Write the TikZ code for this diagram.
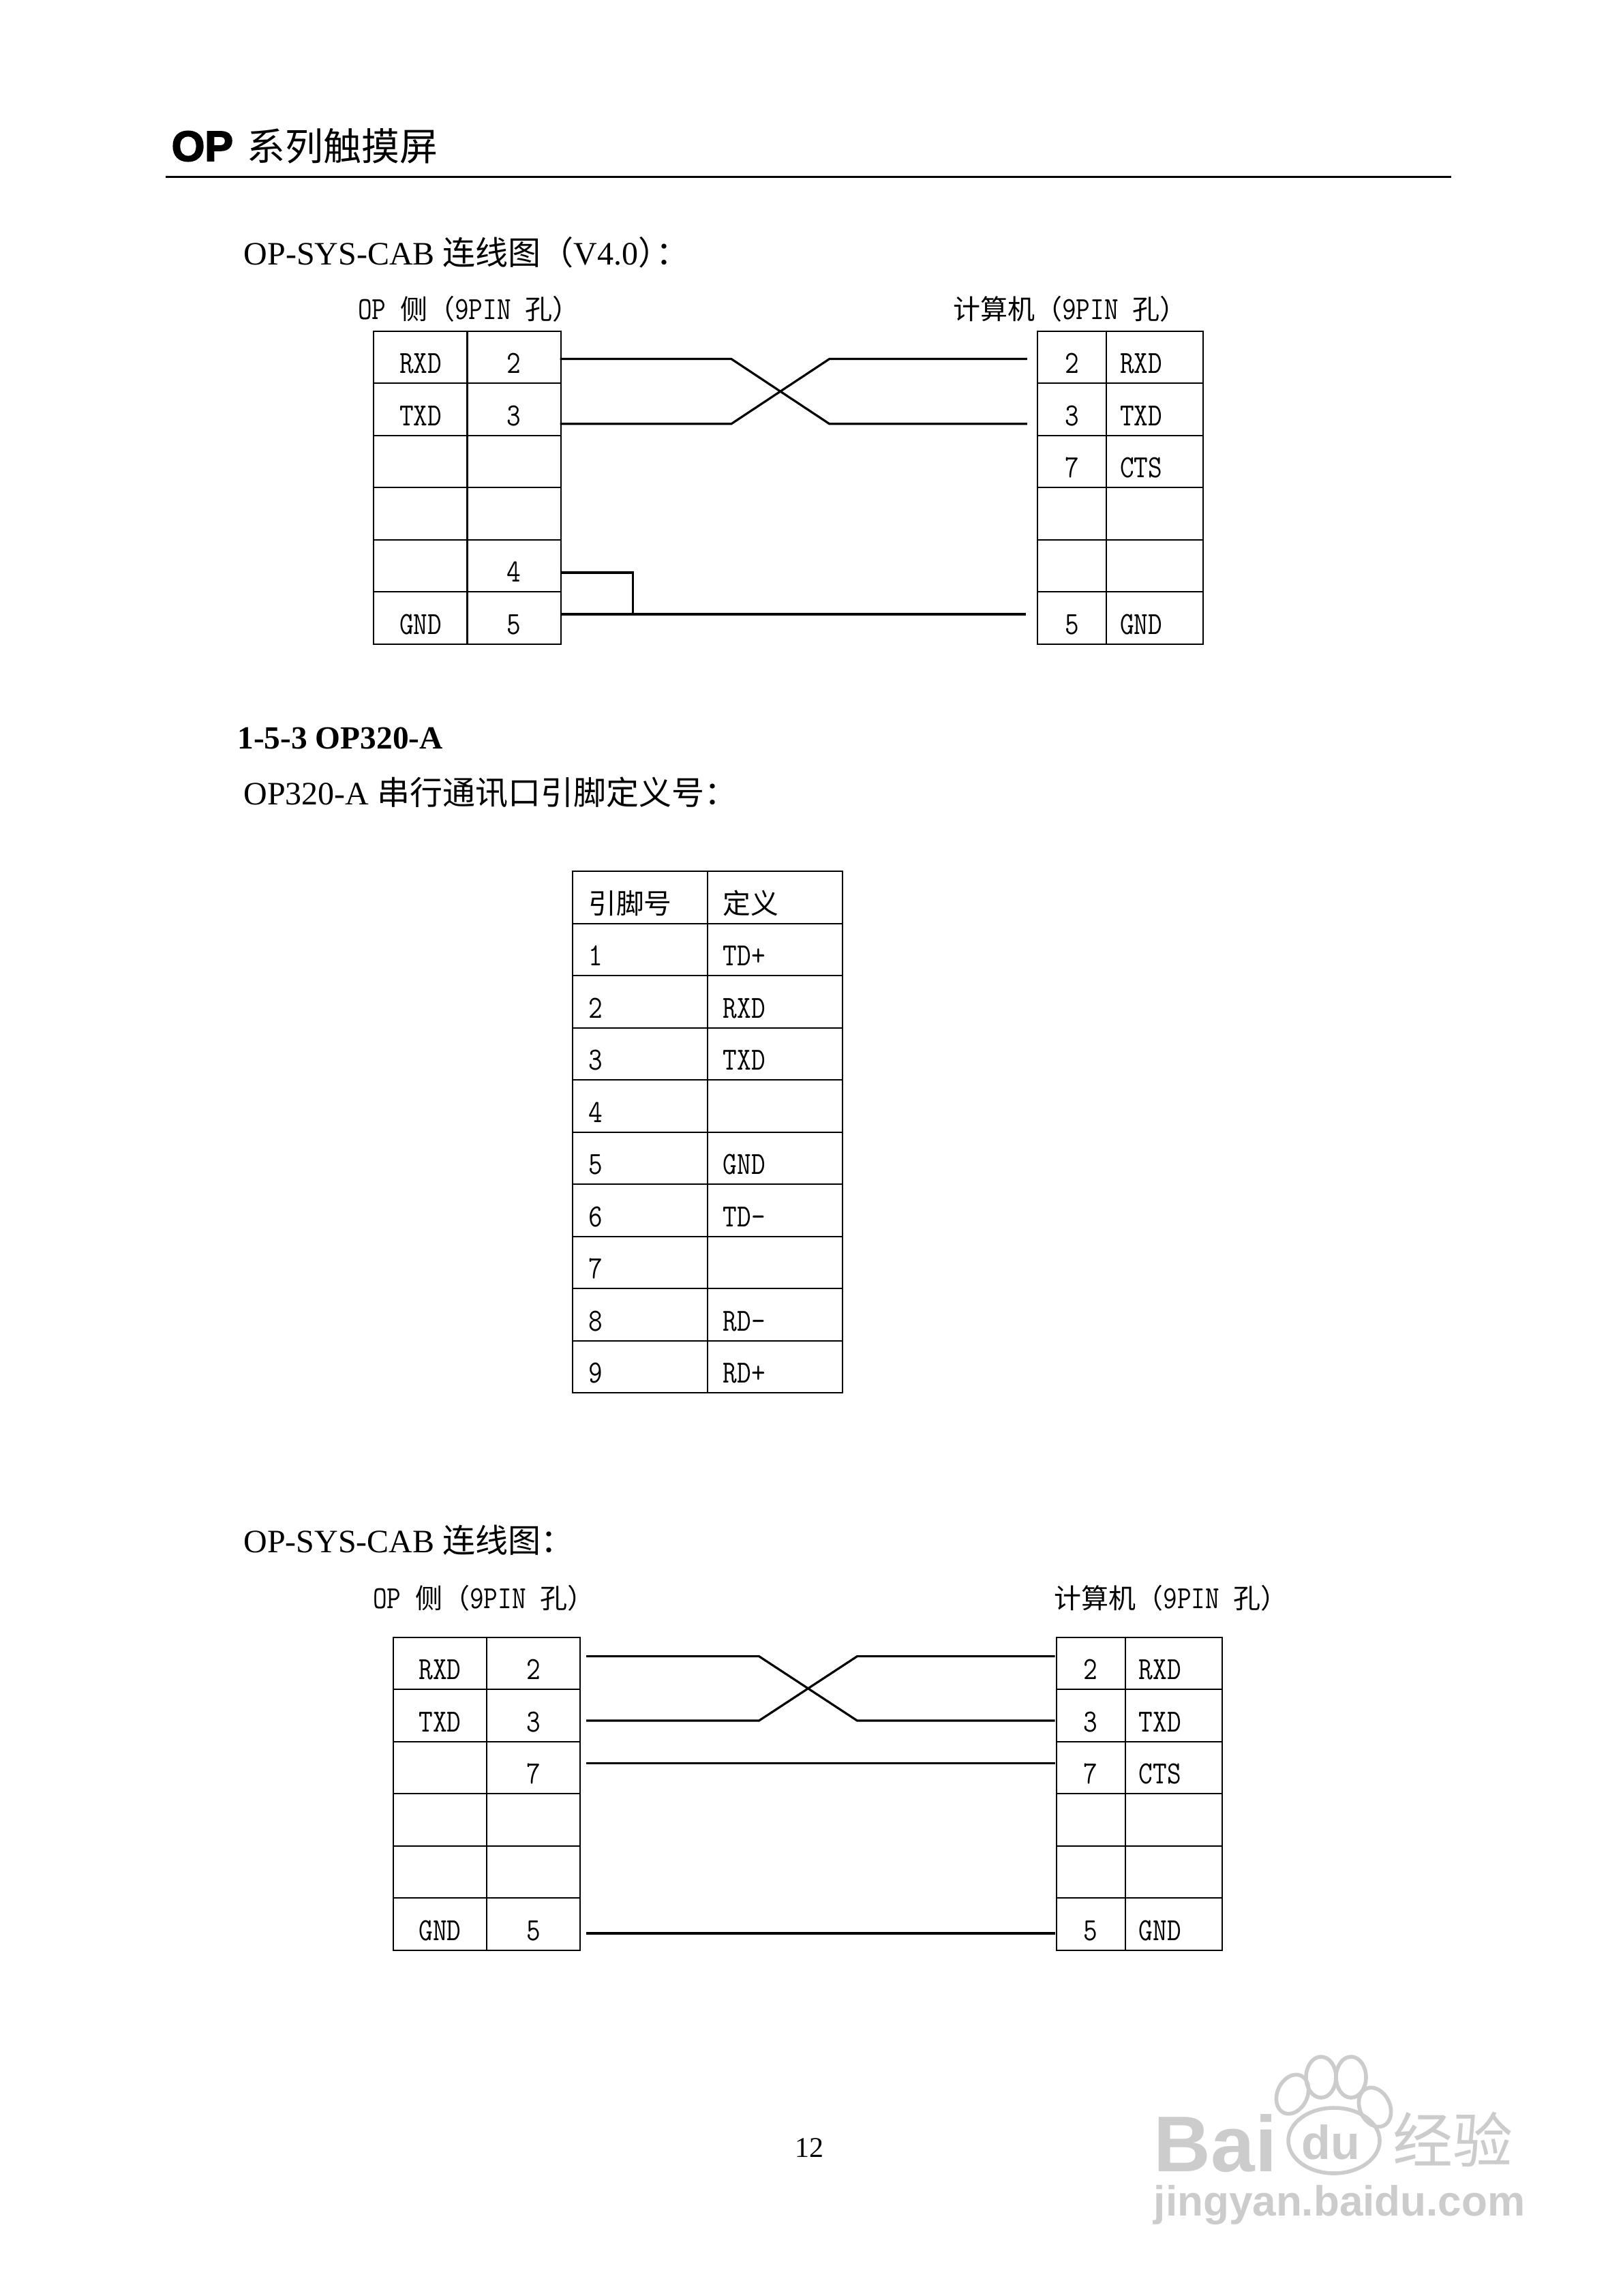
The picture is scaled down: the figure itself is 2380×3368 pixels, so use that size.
\documentclass[tikz,border=0pt]{standalone}
\usepackage{fontspec}
\usepackage{xcolor}
\setmainfont{Liberation Serif}
\newfontfamily\cjk{Noto Sans CJK SC}
\newfontfamily\pinfont[FakeStretch=0.85]{Latin Modern Mono}
\newfontfamily\opfont[UprightFont={* Bold},FakeBold=3]{Liberation Sans}
\newfontfamily\markfont[UprightFont={* Bold}]{Liberation Sans}
\usetikzlibrary{positioning}

\begin{document}
\begin{tikzpicture}[x=.25pt,y=-.25pt]
  \tikzstyle{cell}=[draw=black,line width=.5pt,rectangle,outer sep=0pt,inner xsep=0pt,inner ysep=3.6pt,text height=11.93pt,text depth=0pt,font=\pinfont\fontsize{11.8}{12}\selectfont]
  \tikzstyle{pincol}=[cell,minimum width=34.27pt,node distance=19.13pt]
  \tikzstyle{numcol}=[cell,minimum width=25.33pt,node distance=19.13pt]
  \tikzstyle{namecol}=[cell,minimum width=35.5pt,text width=25.5pt,align=left,node distance=19.13pt]
  \tikzstyle{deftab}=[cell,minimum width=49.42pt,text width=38pt,align=left,node distance=19.12pt]
  \tikzstyle{wire}=[line width=.8pt,draw=black]
  \tikzstyle{textline}=[anchor=base west,inner sep=0pt,font=\fontsize{12}{14}\selectfont]
  \tikzstyle{sidetext}=[anchor=base west,inner sep=0pt,font=\pinfont\fontsize{11.8}{14}\selectfont]
  \tikzstyle{wmark}=[anchor=base west,inner sep=0pt,text=black!20]
  \tikzstyle{paw}=[draw=black!20,line width=1.4pt]
  \useasboundingbox (0,0) rectangle (2380,3368);

  % page head
  \node [anchor=base west,inner sep=0pt,font=\opfont\fontsize{15.6}{16}\selectfont] (head) at (251,236) {OP};
  \node [anchor=base west,inner sep=0pt,font=\cjk\fontsize{14}{16}\selectfont] (headb) at (361.5,236) {系列触摸屏};
  \coordinate (rulea) at (243,260);
  \coordinate (ruleb) at (2129,260);
  \draw [line width=.75pt] (rulea) -- (ruleb);

  % first cable
  \node [textline] (title1) at (357,389) {OP-SYS-CAB {\cjk 连线图（}V4.0{\cjk ）\kern-.45em：}};
  \node [sidetext] (opside1) at (524.5,469) {OP {\cjk\fontsize{10}{14}\selectfont 侧（}9PIN {\cjk\fontsize{10}{14}\selectfont 孔）}};
  \node [sidetext] (pcside1) at (1397.5,469) {{\cjk\fontsize{10}{14}\selectfont 计算机（}9PIN {\cjk\fontsize{10}{14}\selectfont 孔）}};

  \node [pincol] (a1) at (617,524) {RXD};
  \node [pincol] (a2) [below of=a1] {TXD};
  \node [pincol] (a3) [below of=a2] {};
  \node [pincol] (a4) [below of=a3] {};
  \node [pincol] (a5) [below of=a4] {};
  \node [pincol] (a6) [below of=a5] {GND};
  \node [pincol] (b1) at (754,524) {2};
  \node [pincol] (b2) [below of=b1] {3};
  \node [pincol] (b3) [below of=b2] {};
  \node [pincol] (b4) [below of=b3] {};
  \node [pincol] (b5) [below of=b4] {4};
  \node [pincol] (b6) [below of=b5] {5};

  \node [numcol] (c1) at (1572.4,524) {2};
  \node [numcol] (c2) [below of=c1] {3};
  \node [numcol] (c3) [below of=c2] {7};
  \node [numcol] (c4) [below of=c3] {};
  \node [numcol] (c5) [below of=c4] {};
  \node [numcol] (c6) [below of=c5] {5};
  \node [namecol] (d1) at (1694.1,524) {RXD};
  \node [namecol] (d2) [below of=d1] {TXD};
  \node [namecol] (d3) [below of=d2] {CTS};
  \node [namecol] (d4) [below of=d3] {};
  \node [namecol] (d5) [below of=d4] {};
  \node [namecol] (d6) [below of=d5] {GND};

  \coordinate (w1) at (821.5,526.5);
  \coordinate (w2) at (821.5,621.8);
  \coordinate (k1) at (1072.8,526.5);
  \coordinate (k2) at (1072.8,621.8);
  \coordinate (k3) at (1216.8,621.8);
  \coordinate (k4) at (1216.8,526.5);
  \coordinate (e1) at (1506.8,621.8);
  \coordinate (e2) at (1506.8,526.5);
  \coordinate (w4) at (821.5,840);
  \coordinate (j4) at (928.7,840);
  \coordinate (j5) at (928.7,901);
  \coordinate (w5) at (821.5,901);
  \coordinate (e5) at (1505,901);
  \draw [wire] (w1) -- (k1) -- (k3) -- (e1);
  \draw [wire] (w2) -- (k2) -- (k4) -- (e2);
  \draw [wire] (w4) -- (j4) -- (j5);
  \draw [wire] (w5) -- (e5);

  % pin table
  \node [textline,font=\bfseries\fontsize{11.85}{14}\selectfont] (title2) at (347.5,1098.6) {1-5-3 OP320-A};
  \node [textline] (title3) at (356.6,1180.5) {OP320-A {\cjk 串行通讯口引脚定义号：}};

  \node [deftab,font=\cjk\fontsize{10.2}{14}\selectfont] (p0) at (939.2,1316.6) {引脚号};
  \node [deftab] (p1) [below of=p0] {1};
  \node [deftab] (p2) [below of=p1] {2};
  \node [deftab] (p3) [below of=p2] {3};
  \node [deftab] (p4) [below of=p3] {4};
  \node [deftab] (p5) [below of=p4] {5};
  \node [deftab] (p6) [below of=p5] {6};
  \node [deftab] (p7) [below of=p6] {7};
  \node [deftab] (p8) [below of=p7] {8};
  \node [deftab] (p9) [below of=p8] {9};
  \node [deftab,font=\cjk\fontsize{10.2}{14}\selectfont] (q0) at (1136.8,1316.6) {定义};
  \node [deftab] (q1) [below of=q0] {TD+};
  \node [deftab] (q2) [below of=q1] {RXD};
  \node [deftab] (q3) [below of=q2] {TXD};
  \node [deftab] (q4) [below of=q3] {};
  \node [deftab] (q5) [below of=q4] {GND};
  \node [deftab] (q6) [below of=q5] {TD-};
  \node [deftab] (q7) [below of=q6] {};
  \node [deftab] (q8) [below of=q7] {RD-};
  \node [deftab] (q9) [below of=q8] {RD+};

  % second cable
  \node [textline] (title4) at (356.6,2277.6) {OP-SYS-CAB {\cjk 连线图：}};
  \node [sidetext] (opside2) at (546.3,2359) {OP {\cjk\fontsize{10}{14}\selectfont 侧（}9PIN {\cjk\fontsize{10}{14}\selectfont 孔）}};
  \node [sidetext] (pcside2) at (1545.6,2359) {{\cjk\fontsize{10}{14}\selectfont 计算机（}9PIN {\cjk\fontsize{10}{14}\selectfont 孔）}};

  \node [pincol] (f1) at (645.5,2439.9) {RXD};
  \node [pincol] (f2) [below of=f1] {TXD};
  \node [pincol] (f3) [below of=f2] {};
  \node [pincol] (f4) [below of=f3] {};
  \node [pincol] (f5) [below of=f4] {};
  \node [pincol] (f6) [below of=f5] {GND};
  \node [pincol] (g1) at (782.5,2439.9) {2};
  \node [pincol] (g2) [below of=g1] {3};
  \node [pincol] (g3) [below of=g2] {7};
  \node [pincol] (g4) [below of=g3] {};
  \node [pincol] (g5) [below of=g4] {};
  \node [pincol] (g6) [below of=g5] {5};

  \node [numcol] (h1) at (1600.2,2439.9) {2};
  \node [numcol] (h2) [below of=h1] {3};
  \node [numcol] (h3) [below of=h2] {7};
  \node [numcol] (h4) [below of=h3] {};
  \node [numcol] (h5) [below of=h4] {};
  \node [numcol] (h6) [below of=h5] {5};
  \node [namecol] (m1) at (1721.9,2439.9) {RXD};
  \node [namecol] (m2) [below of=m1] {TXD};
  \node [namecol] (m3) [below of=m2] {CTS};
  \node [namecol] (m4) [below of=m3] {};
  \node [namecol] (m5) [below of=m4] {};
  \node [namecol] (m6) [below of=m5] {GND};

  \coordinate (s1) at (860.2,2429.6);
  \coordinate (s2) at (860.2,2524);
  \coordinate (s3) at (860.2,2586.6);
  \coordinate (s5) at (860.2,2835.9);
  \coordinate (n1) at (1113.5,2429.6);
  \coordinate (n2) at (1113.5,2524);
  \coordinate (n3) at (1257.5,2524);
  \coordinate (n4) at (1257.5,2429.6);
  \coordinate (t1) at (1547.6,2524);
  \coordinate (t2) at (1547.6,2429.6);
  \coordinate (t3) at (1547.6,2586.6);
  \coordinate (t5) at (1547.6,2835.9);
  \draw [wire] (s1) -- (n1) -- (n3) -- (t1);
  \draw [wire] (s2) -- (n2) -- (n4) -- (t2);
  \draw [wire] (s3) -- (t3);
  \draw [wire] (s5) -- (t5);

  \node [inner sep=0pt,font=\fontsize{10.5}{12}\selectfont] (page) at (1187,3151) {12};

  % watermark
  \draw [paw,rotate around={-25:(1896,3072)}] (1896,3072) ellipse (22 and 30);
  \draw [paw] (1938,3047) ellipse (22 and 30);
  \draw [paw] (1982,3047) ellipse (22 and 30);
  \draw [paw,rotate around={25:(2017,3091)}] (2017,3091) ellipse (22 and 30);
  \draw [paw] (1957,3140) ellipse (67 and 48);
  \node [wmark,font=\markfont\fontsize{29}{32}\selectfont] (bai) at (1692,3185) {Bai};
  \node [wmark,font=\markfont\fontsize{17.5}{20}\selectfont] (du) at (1909,3167) {du};
  \node [wmark,font=\cjk\fontsize{22}{24}\selectfont] (jing) at (2043,3172) {经验};
  \node [wmark,font=\markfont\fontsize{15.5}{18}\selectfont] (site) at (1692,3250) {jingyan.baidu.com};
\end{tikzpicture}
\end{document}
